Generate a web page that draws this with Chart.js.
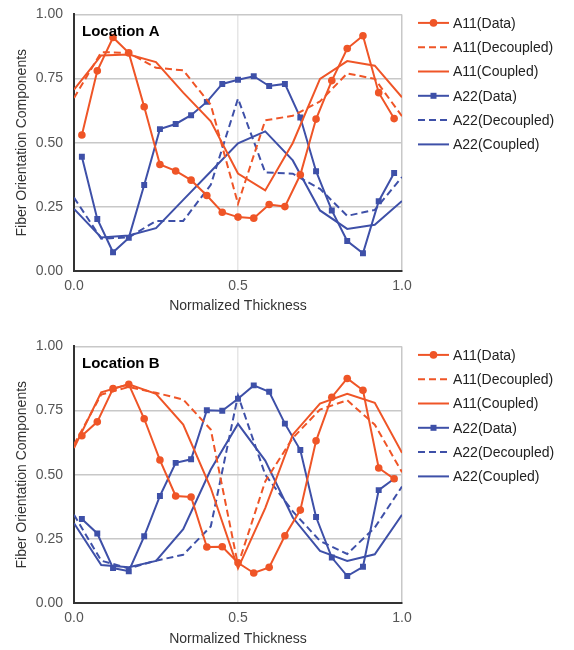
<!DOCTYPE html>
<html>
<head>
<meta charset="utf-8">
<script src="https://cdn.jsdelivr.net/npm/chart.js@4/dist/chart.umd.min.js"></script>
<style>
  html, body { margin: 0; padding: 0; background: #fff; overflow: hidden; }
  .wrap { position: absolute; left: 0; width: 574px; }
  #boxA { top: -5px; height: 330px; }
  #boxB { top: 327px; height: 323px; }
</style>
</head>
<body>
<div class="wrap" id="boxA"><canvas id="chartA"></canvas></div>
<div class="wrap" id="boxB"><canvas id="chartB"></canvas></div>
<script>
/* ================= DATA ================= */
const dataX = [0.024, 0.071, 0.119, 0.167, 0.214, 0.262, 0.310, 0.357, 0.405, 0.452, 0.500,
               0.548, 0.595, 0.643, 0.690, 0.738, 0.786, 0.833, 0.881, 0.929, 0.976];
const modelX = [0, 0.083, 0.167, 0.25, 0.333, 0.417, 0.5, 0.583, 0.667, 0.75, 0.833, 0.917, 1.0];

// Location A
const a11DataA      = [0.53, 0.78, 0.91, 0.85, 0.64, 0.415, 0.39, 0.354, 0.294, 0.229, 0.21,
                       0.206, 0.259, 0.251, 0.375, 0.592, 0.742, 0.867, 0.917, 0.695, 0.594];
const a11DecoupledA = [0.674, 0.853, 0.85, 0.792, 0.782, 0.648, 0.262, 0.587, 0.605, 0.661, 0.77, 0.749, 0.603];
const a11CoupledA   = [0.707, 0.84, 0.844, 0.814, 0.695, 0.583, 0.38, 0.314, 0.499, 0.749, 0.818, 0.80, 0.677];
const a22DataA      = [0.445, 0.203, 0.073, 0.129, 0.335, 0.553, 0.573, 0.607, 0.659, 0.729, 0.745,
                       0.759, 0.721, 0.729, 0.598, 0.389, 0.236, 0.117, 0.069, 0.272, 0.382];
const a22DecoupledA = [0.286, 0.126, 0.131, 0.195, 0.195, 0.336, 0.672, 0.384, 0.379, 0.32, 0.215, 0.238, 0.366];
const a22CoupledA   = [0.242, 0.131, 0.138, 0.167, 0.277, 0.388, 0.498, 0.544, 0.431, 0.236, 0.164, 0.18, 0.273];

// Location B
const a11DataB      = [0.652, 0.706, 0.836, 0.852, 0.718, 0.557, 0.417, 0.413, 0.218, 0.219, 0.157,
                       0.117, 0.139, 0.262, 0.362, 0.632, 0.802, 0.875, 0.829, 0.526, 0.484];
const a11DecoupledB = [0.617, 0.812, 0.842, 0.819, 0.793, 0.676, 0.148, 0.474, 0.643, 0.754, 0.79, 0.695, 0.51];
const a11CoupledB   = [0.604, 0.821, 0.852, 0.815, 0.695, 0.448, 0.135, 0.37, 0.656, 0.777, 0.815, 0.78, 0.585];
const a22DataB      = [0.327, 0.271, 0.136, 0.124, 0.26, 0.417, 0.546, 0.56, 0.751, 0.749, 0.796,
                       0.848, 0.823, 0.699, 0.596, 0.335, 0.177, 0.105, 0.141, 0.44, 0.484];
const a22DecoupledB = [0.344, 0.165, 0.135, 0.165, 0.188, 0.298, 0.809, 0.5, 0.357, 0.242, 0.191, 0.294, 0.454];
const a22CoupledB   = [0.311, 0.148, 0.139, 0.164, 0.288, 0.52, 0.698, 0.555, 0.333, 0.203, 0.164, 0.19, 0.344];

const seriesLabels = ["A11(Data)", "A11(Decoupled)", "A11(Coupled)", "A22(Data)", "A22(Decoupled)", "A22(Coupled)"];
const xTickLabels = { 0: "0.0", 0.5: "0.5", 1: "1.0" };

/* ================= STYLE ================= */
const ORANGE = "#ef5527";
const BLUE = "#3e50a8";
const FONT = "'Liberation Sans', Arial, sans-serif";

function pts(xs, ys) {
    return ys.map((y, i) => ({ x: xs[i], y }));
}

function buildDatasets(a11d, a11dec, a11c, a22d, a22dec, a22c) {
    const base = { borderWidth: 2, fill: false, tension: 0, showLine: true };
    return [
        { ...base, label: seriesLabels[0], data: pts(dataX, a11d), borderColor: ORANGE, backgroundColor: ORANGE,
          pointStyle: "circle", pointRadius: 3.8, pointBorderWidth: 0 },
        { ...base, label: seriesLabels[1], data: pts(modelX, a11dec), borderColor: ORANGE, borderDash: [7, 4], pointRadius: 0 },
        { ...base, label: seriesLabels[2], data: pts(modelX, a11c), borderColor: ORANGE, pointRadius: 0 },
        { ...base, label: seriesLabels[3], data: pts(dataX, a22d), borderColor: BLUE, backgroundColor: BLUE,
          pointStyle: "rect", pointRadius: 4.2, pointBorderWidth: 0 },
        { ...base, label: seriesLabels[4], data: pts(modelX, a22dec), borderColor: BLUE, borderDash: [7, 4], pointRadius: 0 },
        { ...base, label: seriesLabels[5], data: pts(modelX, a22c), borderColor: BLUE, pointRadius: 0 }
    ];
}

/* legend + panel label drawn on canvas */
const sideLegend = {
    id: "sideLegend",
    afterDraw(chart) {
        const ctx = chart.ctx;
        const area = chart.chartArea;
        ctx.save();
        // panel label
        ctx.font = "bold 15px " + FONT;
        ctx.fillStyle = "#000";
        ctx.textBaseline = "alphabetic";
        ctx.textAlign = "left";
        ctx.fillText(chart.options.plugins.sideLegend.panel, area.left + 8, area.top + 22);

        const x0 = area.right + 16;
        const lineLen = 31;
        chart.data.datasets.forEach((ds, i) => {
            const y = area.top + 8.5 + i * 24.3;
            ctx.strokeStyle = ds.borderColor;
            ctx.lineWidth = 2;
            ctx.setLineDash(ds.borderDash || []);
            ctx.beginPath();
            ctx.moveTo(x0, y);
            ctx.lineTo(x0 + lineLen, y);
            ctx.stroke();
            ctx.setLineDash([]);
            if (ds.pointRadius > 0) {
                ctx.fillStyle = ds.borderColor;
                const cx = x0 + lineLen / 2;
                if (ds.pointStyle === "rect") {
                    ctx.fillRect(cx - 3, y - 3, 6, 6);
                } else {
                    ctx.beginPath();
                    ctx.arc(cx, y, 3.8, 0, Math.PI * 2);
                    ctx.fill();
                }
            }
            ctx.fillStyle = "#222";
            ctx.font = "14px " + FONT;
            ctx.textBaseline = "middle";
            ctx.fillText(ds.label, x0 + lineLen + 4, y + 1);
        });
        ctx.restore();
    }
};

function makeChart(id, panel, axisH, titlePad, datasets) {
    const ctx = document.getElementById(id).getContext("2d");
    return new Chart(ctx, {
        type: "scatter",
        data: { datasets },
        plugins: [sideLegend],
        options: {
            responsive: true,
            maintainAspectRatio: false,
            animation: false,
            layout: { padding: { top: 0, right: 172, left: 0, bottom: 0 } },
            plugins: {
                legend: { display: false },
                tooltip: { enabled: false },
                sideLegend: { panel }
            },
            scales: {
                x: {
                    type: "linear",
                    min: 0,
                    max: 1,
                    afterFit: (s) => { s.height = axisH; },
                    border: { color: "#333", width: 2 },
                    grid: {
                        drawTicks: false,
                        lineWidth: 1.5,
                        color: (c) => (c.tick && c.tick.value === 1 ? "#c8c8c8" : "#e6e6e6")
                    },
                    ticks: {
                        stepSize: 0.25,
                        padding: 7,
                        color: "#555",
                        font: { family: FONT, size: 14 },
                        maxRotation: 0,
                        autoSkip: false,
                        callback: (v) => (xTickLabels[v] !== undefined ? xTickLabels[v] : null)
                    },
                    title: {
                        display: true,
                        text: "Normalized Thickness",
                        color: "#333",
                        font: { family: FONT, size: 14 },
                        padding: { top: 0, bottom: titlePad }
                    }
                },
                y: {
                    min: 0,
                    max: 1,
                    afterFit: (s) => { s.width = 74; },
                    border: { color: "#333", width: 2 },
                    grid: { drawTicks: false, lineWidth: 1.5, color: "#c8c8c8" },
                    ticks: {
                        stepSize: 0.25,
                        padding: 11,
                        color: "#555",
                        font: { family: FONT, size: 14 },
                        callback: (v) => v.toFixed(2)
                    },
                    title: {
                        display: true,
                        text: "Fiber Orientation Components",
                        color: "#333",
                        font: { family: FONT, size: 14 },
                        padding: { top: 14, bottom: 0 }
                    }
                }
            }
        }
    });
}

makeChart("chartA", "Location A", 54, 10,
    buildDatasets(a11DataA, a11DecoupledA, a11CoupledA, a22DataA, a22DecoupledA, a22CoupledA));
makeChart("chartB", "Location B", 47, 2,
    buildDatasets(a11DataB, a11DecoupledB, a11CoupledB, a22DataB, a22DecoupledB, a22CoupledB));
</script>
</body>
</html>
